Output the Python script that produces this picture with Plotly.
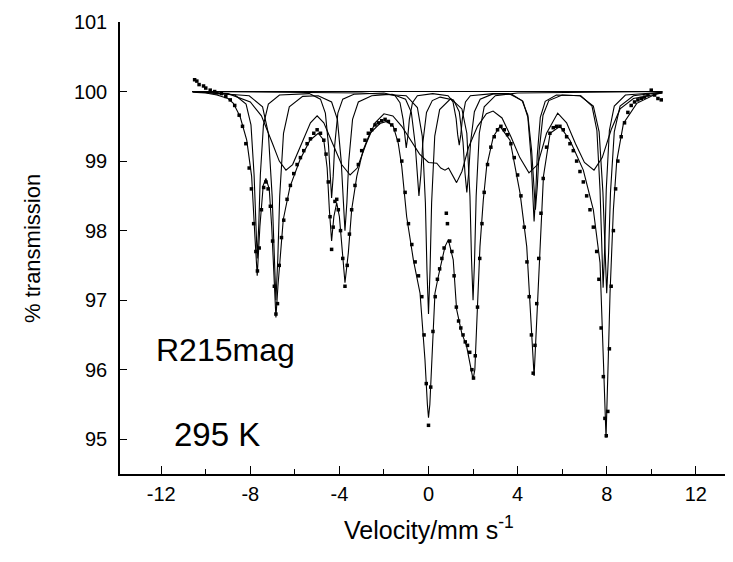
import plotly.graph_objects as go

# total fit envelope (velocity mm/s, % transmission)
fit_x = [-10.6, -10.0, -9.5, -9.0, -8.76, -8.46, -8.16, -7.94, -7.79, -7.69, -7.57, -7.42, -7.3, -7.15,
         -7.04, -6.93, -6.85, -6.76, -6.67, -6.52, -6.22, -5.77, -5.32, -4.95, -4.7, -4.55, -4.45, -4.35,
         -4.25, -4.12, -4.0, -3.9, -3.75, -3.6, -3.45, -3.22, -2.93, -2.63, -2.18, -1.88, -1.58, -1.36,
         -1.2, -0.98, -0.68, -0.38, -0.16, -0.05, 0.0, 0.06, 0.14, 0.29, 0.44, 0.74, 0.89, 1.11, 1.26,
         1.49, 1.71, 1.9, 2.0, 2.08, 2.16, 2.31, 2.46, 2.61, 2.91, 3.21, 3.66, 4.11, 4.41, 4.63, 4.74,
         4.86, 5.0, 5.16, 5.46, 5.9, 6.35, 6.95, 7.4, 7.7, 7.85, 7.97, 8.07, 8.15, 8.3, 8.45, 8.75, 9.35,
         10.25, 10.5]
fit_y = [99.99, 99.98, 99.95, 99.9, 99.83, 99.64, 99.3, 98.78, 97.9, 97.35, 98.06, 98.65, 98.75, 98.6,
         98.06, 97.3, 96.75, 97.2, 97.58, 98.16, 98.63, 99.02, 99.3, 99.4, 99.3, 98.9, 98.3, 97.85,
         98.2, 98.4, 98.2, 97.77, 97.25, 97.68, 98.3, 98.78, 99.16, 99.4, 99.54, 99.57, 99.5, 99.26,
         98.92, 98.2, 97.58, 97.1, 96.15, 95.5, 95.31, 95.5, 96.15, 97.1, 97.34, 97.77, 97.87, 97.58, 96.87,
         96.53, 96.34, 96.0, 95.86, 96.0, 96.63, 97.77, 98.44, 98.92, 99.35, 99.5, 99.3, 98.54, 97.77, 96.63, 95.91,
         96.72, 97.77, 98.78, 99.4, 99.5, 99.3, 98.87, 98.3, 97.54, 96.15, 95.02, 96.15, 97.1, 98.3, 99.0, 99.54, 99.83,
         99.97, 99.98]

# sub-spectrum A (sharp sextet)
sexA_x = [-10.6, -8.69, -8.19, -7.97, -7.83, -7.76, -7.69, -7.62, -7.55, -7.41, -7.19, -6.69,
          -5.35, -4.85, -4.63, -4.49, -4.42, -4.35, -4.28, -4.21, -4.07, -3.85, -3.35,
          -2.0, -1.5, -1.28, -1.14, -1.07, -1.0, -0.93, -0.86, -0.72, -0.5, 0.19,
          0.88, 1.1, 1.24, 1.31, 1.38, 1.45, 1.52, 1.66, 1.88, 2.9,
          3.74, 4.24, 4.46, 4.6, 4.67, 4.74, 4.81, 4.88, 5.02, 5.24, 5.74,
          6.84, 7.34, 7.56, 7.7, 7.77, 7.84, 7.91, 7.98, 8.12, 8.34, 8.84, 10.5]
sexA_y = [100.0, 99.95, 99.82, 99.52, 98.8, 98.08, 97.6, 98.08, 98.8, 99.52, 99.82, 99.95,
          99.97, 99.89, 99.69, 99.23, 98.78, 98.47, 98.78, 99.23, 99.69, 99.89, 99.96,
          99.98, 99.94, 99.84, 99.6, 99.35, 99.19, 99.35, 99.6, 99.84, 99.94, 99.97,
          99.94, 99.85, 99.61, 99.38, 99.23, 99.38, 99.61, 99.85, 99.94, 99.97,
          99.96, 99.86, 99.63, 99.07, 98.5, 98.13, 98.5, 99.07, 99.63, 99.86, 99.95,
          99.94, 99.79, 99.44, 98.59, 97.74, 97.18, 97.74, 98.59, 99.44, 99.79, 99.95, 99.99]

# sub-spectrum B (sextet)
sexB_x = [-10.6, -8.05, -7.45, -7.19, -7.02, -6.935, -6.85, -6.765, -6.68, -6.51, -6.25, -5.65,
          -4.95, -4.35, -4.09, -3.92, -3.835, -3.75, -3.665, -3.58, -3.41, -3.15, -2.55,
          -1.63, -1.03, -0.77, -0.6, -0.515, -0.43, -0.345, -0.26, -0.09, 0.17,
          0.52, 1.12, 1.38, 1.55, 1.635, 1.72, 1.805, 1.89, 2.06, 2.32, 2.92,
          3.6, 4.2, 4.46, 4.63, 4.715, 4.8, 4.885, 4.97, 5.14, 5.4, 6.0,
          6.8, 7.4, 7.66, 7.83, 7.915, 8.0, 8.085, 8.17, 8.34, 8.6, 9.2, 10.5]
sexB_y = [100.0, 99.94, 99.78, 99.4, 98.5, 97.6, 97.0, 97.6, 98.5, 99.4, 99.78, 99.93,
          99.94, 99.85, 99.6, 99.0, 98.4, 98.0, 98.4, 99.0, 99.6, 99.85, 99.94,
          99.96, 99.89, 99.7, 99.25, 98.8, 98.5, 98.8, 99.25, 99.7, 99.87,
          99.92, 99.88, 99.71, 99.27, 98.84, 98.55, 98.84, 99.27, 99.71, 99.89, 99.97,
          99.97, 99.87, 99.66, 99.15, 98.64, 98.3, 98.64, 99.15, 99.66, 99.87, 99.95,
          99.94, 99.79, 99.42, 98.55, 97.68, 97.1, 97.68, 98.55, 99.42, 99.79, 99.94, 99.99]

# sub-spectrum D (doublet)
dbl_x = [-10.6, -3.0, -1.0, -0.5, -0.28, -0.14, -0.07, 0.0, 0.07, 0.14, 0.28, 0.5, 1.0,
         1.5, 1.72, 1.86, 1.93, 2.0, 2.07, 2.14, 2.28, 2.5, 3.0, 4.0, 10.5]
dbl_y = [100.0, 99.98, 99.94, 99.77, 99.36, 98.4, 97.44, 96.8, 97.44, 98.4, 99.36, 99.74, 99.9,
         99.75, 99.4, 98.5, 97.6, 97.0, 97.6, 98.5, 99.4, 99.78, 99.94, 99.98, 100.0]

# sub-spectrum C (broad component)
brd_x = [-10.6, -9.0, -8.0, -7.5, -7.0, -6.7, -6.4, -6.1, -5.7, -5.3, -5.0, -4.7, -4.3, -3.9, -3.52,
         -3.2, -2.8, -2.4, -2.0, -1.6, -1.2, -0.8, -0.4, 0.0, 0.37, 0.55, 0.74, 0.9, 1.05, 1.26, 1.5,
         1.8, 2.2, 2.6, 2.9, 3.3, 3.7, 4.1, 4.51, 4.9, 5.3, 5.8, 6.2, 6.6, 7.0, 7.43, 7.8, 8.2, 8.6,
         9.2, 10.5]
brd_y = [100.0, 99.97, 99.85, 99.65, 99.25, 99.0, 98.87, 98.95, 99.25, 99.55, 99.65, 99.55, 99.25, 98.95, 98.8,
         98.9, 99.25, 99.55, 99.68, 99.65, 99.5, 99.3, 99.1, 98.98, 98.97, 98.9, 98.87, 98.9, 98.82, 98.69, 98.85,
         99.2, 99.5, 99.68, 99.72, 99.62, 99.35, 99.05, 98.83, 98.95, 99.4, 99.69, 99.55, 99.25, 98.98, 98.87, 99.05, 99.45, 99.75,
         99.9, 99.98]

# baseline
base_x = [-10.6, 10.5]
base_y = [100.0, 100.0]

# measured points
data_x = [-10.5, -10.4, -10.3, -10.1, -10.0, -9.8, -9.6, -9.5, -9.3, -9.1, -8.9, -8.7, -8.5, -8.35, -8.2,
          -8.05, -7.95, -7.85, -7.75, -7.68, -7.6, -7.5, -7.4, -7.3, -7.2, -7.1, -7.0, -6.92, -6.85, -6.78,
          -6.7, -6.6, -6.5, -6.35, -6.2, -6.05, -5.9, -5.75, -5.6, -5.45, -5.3, -5.15, -5.0, -4.85, -4.7,
          -4.6, -4.5, -4.42, -4.35, -4.28, -4.2, -4.12, -4.05, -3.95, -3.85, -3.75, -3.65, -3.55, -3.45,
          -3.3, -3.15, -3.0, -2.85, -2.7, -2.55, -2.4, -2.25, -2.1, -1.95, -1.8, -1.65, -1.5, -1.35, -1.2,
          -1.05, -0.9, -0.75, -0.6, -0.45, -0.3, -0.2, -0.1, 0.0, 0.1, 0.2, 0.3, 0.4, 0.5, 0.6, 0.7, 0.8,
          0.85, 0.95, 1.05, 1.15, 1.25, 1.35, 1.45, 1.55, 1.65, 1.75, 1.85, 1.95, 2.02, 2.1, 2.2, 2.3, 2.4,
          2.5, 2.65, 2.8, 2.95, 3.1, 3.25, 3.4, 3.55, 3.7, 3.85, 4.0, 4.15, 4.3, 4.42, 4.52, 4.62, 4.7, 4.78,
          4.86, 4.95, 5.05, 5.15, 5.3, 5.45, 5.6, 5.75, 5.9, 6.05, 6.2, 6.35, 6.5, 6.65, 6.8, 6.95, 7.1,
          7.25, 7.4, 7.55, 7.65, 7.75, 7.85, 7.92, 7.98, 8.05, 8.12, 8.2, 8.3, 8.4, 8.5, 8.65, 8.8, 8.95,
          9.1, 9.25, 9.4, 9.55, 9.7, 9.85, 10.0, 10.15, 10.3, 10.45]
data_y = [100.17, 100.15, 100.1, 100.08, 100.05, 100.02, 100.0, 99.98, 99.97, 99.93, 99.88, 99.8, 99.66, 99.5, 99.25,
          98.9, 98.6, 98.1, 97.7, 97.42, 97.75, 98.3, 98.62, 98.7, 98.6, 98.35, 97.85, 97.2, 96.8, 96.95,
          97.5, 97.9, 98.15, 98.45, 98.65, 98.82, 98.95, 99.05, 99.15, 99.25, 99.32, 99.4, 99.45, 99.4, 99.3,
          99.1, 98.7, 98.2, 97.73, 98.05, 98.42, 98.45, 98.3, 98.0, 97.6, 97.2, 97.5, 97.95, 98.3,
          98.65, 98.95, 99.15, 99.3, 99.4, 99.45, 99.52, 99.55, 99.58, 99.6, 99.57, 99.52, 99.45, 99.3, 99.0,
          98.55, 98.1, 97.8, 97.55, 97.35, 97.05, 96.5, 95.8, 95.2, 95.75, 96.55, 97.05, 97.3, 97.45, 97.6, 97.75, 98.25,
          98.1, 97.85, 97.7, 97.35, 96.9, 96.7, 96.6, 96.5, 96.4, 96.35, 96.25, 96.0, 95.88, 96.2, 96.9, 97.6, 98.1,
          98.55, 98.95, 99.2, 99.35, 99.45, 99.5, 99.45, 99.38, 99.25, 99.05, 98.8, 98.5, 98.05, 97.55, 97.05, 96.5, 95.95, 96.35,
          96.95, 97.6, 98.25, 98.75, 99.2, 99.4, 99.48, 99.5, 99.5, 99.45, 99.35, 99.25, 99.15, 99.0, 98.85, 98.7, 98.5,
          98.3, 98.05, 97.7, 97.3, 96.6, 95.9, 95.3, 95.05, 95.4, 96.3, 97.2, 98.0, 98.6, 99.0, 99.35, 99.55, 99.7,
          99.8, 99.85, 99.88, 99.9, 99.92, 99.95, 100.02, 99.95, 99.9, 99.88]

vel_ticks = [-12, -8, -4, 0, 4, 8, 12]
vel_minor = [-10, -6, -2, 2, 6, 10]
trans_ticks = [95, 96, 97, 98, 99, 100, 101]

line_style = dict(color="black", width=1.1)
fig = go.Figure()
for xs, ys in [(base_x, base_y), (brd_x, brd_y), (dbl_x, dbl_y), (sexB_x, sexB_y),
               (sexA_x, sexA_y), (fit_x, fit_y)]:
    fig.add_trace(go.Scatter(x=xs, y=ys, mode="lines", line=line_style, hoverinfo="skip"))
fig.add_trace(go.Scatter(x=data_x, y=data_y, mode="markers",
                         marker=dict(symbol="square", size=3.5, color="black")))

# page body has an 8px default margin, so the figure is sized/offset to compensate
fig.update_layout(
    width=725, height=554,
    margin=dict(l=112, r=0, t=14, b=87.5, autoexpand=False),
    paper_bgcolor="white", plot_bgcolor="white",
    showlegend=False,
    font=dict(family="Liberation Sans, Arial, sans-serif", color="black"),
)
fig.update_xaxes(range=[-13.85, 13.67], tickvals=vel_ticks, ticktext=[str(v) for v in vel_ticks],
                 ticks="inside", ticklen=8, tickwidth=1.3, tickcolor="black",
                 minor=dict(tickvals=vel_minor, ticks="inside", ticklen=5, tickcolor="black", tickwidth=1.2),
                 showline=True, linecolor="black", linewidth=1.5, showgrid=False, zeroline=False,
                 tickfont=dict(size=20), ticklabelstandoff=1, automargin=False)
fig.update_yaxes(range=[94.5, 101], tickvals=trans_ticks, ticktext=[str(v) for v in trans_ticks],
                 ticks="inside", ticklen=7, tickwidth=1.3, tickcolor="black",
                 showline=True, linecolor="black", linewidth=1.5, showgrid=False, zeroline=False,
                 tickfont=dict(size=20), ticklabelstandoff=7, automargin=False)

fig.add_annotation(text="% transmission", x=-0.1436, y=0.5, xref="paper", yref="paper", showarrow=False,
                   textangle=-90, xanchor="center", yanchor="middle", font=dict(size=22))
fig.add_annotation(text="Velocity/mm s<sup>-1</sup>", x=0.504, y=-0.12, xref="paper", yref="paper",
                   xanchor="center", yanchor="middle", showarrow=False, font=dict(size=25))
fig.add_annotation(text="R215mag", x=-12.32, y=96.29, xref="x", yref="y", showarrow=False,
                   xanchor="left", yanchor="middle", font=dict(size=32))
fig.add_annotation(text="295 K", x=-11.5, y=95.07, xref="x", yref="y", showarrow=False,
                   xanchor="left", yanchor="middle", font=dict(size=33))

fig.write_html("out.html")
